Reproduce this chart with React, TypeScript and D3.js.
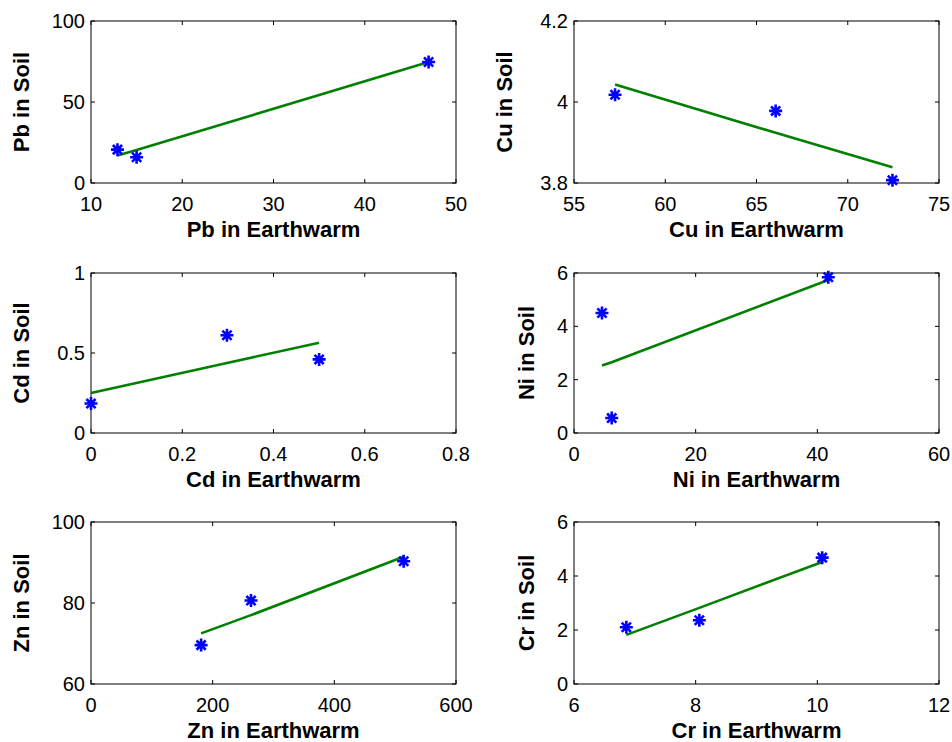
import React from "react";
import * as d3 from "d3";

// ---- Data ----
const metals = ["Pb", "Cu", "Cd", "Ni", "Zn", "Cr"];

const pbEarthworm = [12.9, 15, 47];
const pbSoil = [20.6, 15.9, 74.7];
const pbFit = [16.9, 20.3, 74.7];

const cuEarthworm = [57.25, 66.05, 72.45];
const cuSoil = [4.018, 3.978, 3.807];
const cuFit = [4.043, 3.924, 3.839];

const cdEarthworm = [0, 0.298, 0.5];
const cdSoil = [0.184, 0.611, 0.46];
const cdFit = [0.25, 0.438, 0.564];

const niEarthworm = [4.6, 6.2, 41.8];
const niSoil = [4.5, 0.56, 5.84];
const niFit = [2.53, 2.65, 5.74];

const znEarthworm = [181, 263, 514];
const znSoil = [69.6, 80.6, 90.3];
const znFit = [72.5, 77.0, 91.4];

const crEarthworm = [6.86, 8.06, 10.08];
const crSoil = [2.1, 2.36, 4.68];
const crFit = [1.82, 2.82, 4.52];

const xTicksList = [
  [10, 20, 30, 40, 50],
  [55, 60, 65, 70, 75],
  [0, 0.2, 0.4, 0.6, 0.8],
  [0, 20, 40, 60],
  [0, 200, 400, 600],
  [6, 8, 10, 12],
];
const yTicksList = [
  [0, 50, 100],
  [3.8, 4, 4.2],
  [0, 0.5, 1],
  [0, 2, 4, 6],
  [60, 80, 100],
  [0, 2, 4, 6],
];

const earthwormList = [pbEarthworm, cuEarthworm, cdEarthworm, niEarthworm, znEarthworm, crEarthworm];
const soilList = [pbSoil, cuSoil, cdSoil, niSoil, znSoil, crSoil];
const fitList = [pbFit, cuFit, cdFit, niFit, znFit, crFit];

// ---- Layout ----
const W = 952;
const H = 742;
const cols = [
  [91, 456],
  [574, 939],
];
const rows = [
  [21, 183],
  [273, 433],
  [522, 684],
];
const FONT = "'Liberation Sans', Arial, Helvetica, sans-serif";
const TICK = 4;

const fmt = (v: number) => String(+v.toFixed(6));

function Panel({ idx }: { idx: number }) {
  const col = idx % 2;
  const row = Math.floor(idx / 2);
  const [x0, x1] = cols[col];
  const [y0, y1] = rows[row];
  const xt = xTicksList[idx];
  const yt = yTicksList[idx];
  const xs = d3.scaleLinear().domain([xt[0], xt[xt.length - 1]]).range([x0, x1]);
  const ys = d3.scaleLinear().domain([yt[0], yt[yt.length - 1]]).range([y1, y0]);
  const ex = earthwormList[idx];
  const so = soilList[idx];
  const fi = fitList[idx];
  const fitPts = ex.map((x, i) => [x, fi[i]] as [number, number]).sort((a, b) => a[0] - b[0]);
  const line = d3
    .line<[number, number]>()
    .x((d) => xs(d[0]))
    .y((d) => ys(d[1]));
  const maxLabelW = d3.max(yt, (v) => fmt(v).length * 11.1) || 0;
  const ylabX = x0 - maxLabelW - 29;
  const m = metals[idx];
  const r = 6.5;
  const dd = 4.6;
  const star = `M${-r},0H${r}M0,${-r}V${r}M${-dd},${-dd}L${dd},${dd}M${-dd},${dd}L${dd},${-dd}`;
  return (
    <g>
      {xt.map((v, i) => (
        <g key={"xt" + i}>
          <line x1={xs(v)} x2={xs(v)} y1={y1} y2={y1 - TICK} stroke="#000" strokeWidth={1} />
          <line x1={xs(v)} x2={xs(v)} y1={y0} y2={y0 + TICK} stroke="#000" strokeWidth={1} />
          <text x={xs(v)} y={y1 + 28} textAnchor="middle" fontSize={20} fontFamily={FONT} fill="#000">
            {fmt(v)}
          </text>
        </g>
      ))}
      {yt.map((v, i) => (
        <g key={"yt" + i}>
          <line x1={x0} x2={x0 + TICK} y1={ys(v)} y2={ys(v)} stroke="#000" strokeWidth={1} />
          <line x1={x1} x2={x1 - TICK} y1={ys(v)} y2={ys(v)} stroke="#000" strokeWidth={1} />
          <text x={x0 - 6} y={ys(v) + 7} textAnchor="end" fontSize={20} fontFamily={FONT} fill="#000">
            {fmt(v)}
          </text>
        </g>
      ))}
      <rect x={x0} y={y0} width={x1 - x0} height={y1 - y0} fill="none" stroke="#000" strokeWidth={1} />
      <path d={line(fitPts) || ""} fill="none" stroke="#008000" strokeWidth={2.6} />
      {ex.map((x, i) => (
        <path
          key={"p" + i}
          d={star}
          transform={`translate(${xs(x)},${ys(so[i])})`}
          stroke="#0000ff"
          strokeWidth={2.6}
          fill="none"
        />
      ))}
      <text
        x={(x0 + x1) / 2}
        y={y1 + 54}
        textAnchor="middle"
        fontSize={22}
        fontWeight="bold"
        fontFamily={FONT}
        fill="#000"
      >
        {m} in Earthwarm
      </text>
      <text
        transform={`translate(${ylabX},${(y0 + y1) / 2}) rotate(-90)`}
        textAnchor="middle"
        fontSize={22}
        fontWeight="bold"
        fontFamily={FONT}
        fill="#000"
      >
        {m} in Soil
      </text>
    </g>
  );
}

export default function App() {
  return (
    <svg
      width={W}
      height={H}
      style={{ position: "absolute", left: 0, top: 0, background: "#fff" }}
    >
      <rect x={0} y={0} width={W} height={H} fill="#fff" />
      {metals.map((_, i) => (
        <Panel key={i} idx={i} />
      ))}
    </svg>
  );
}
